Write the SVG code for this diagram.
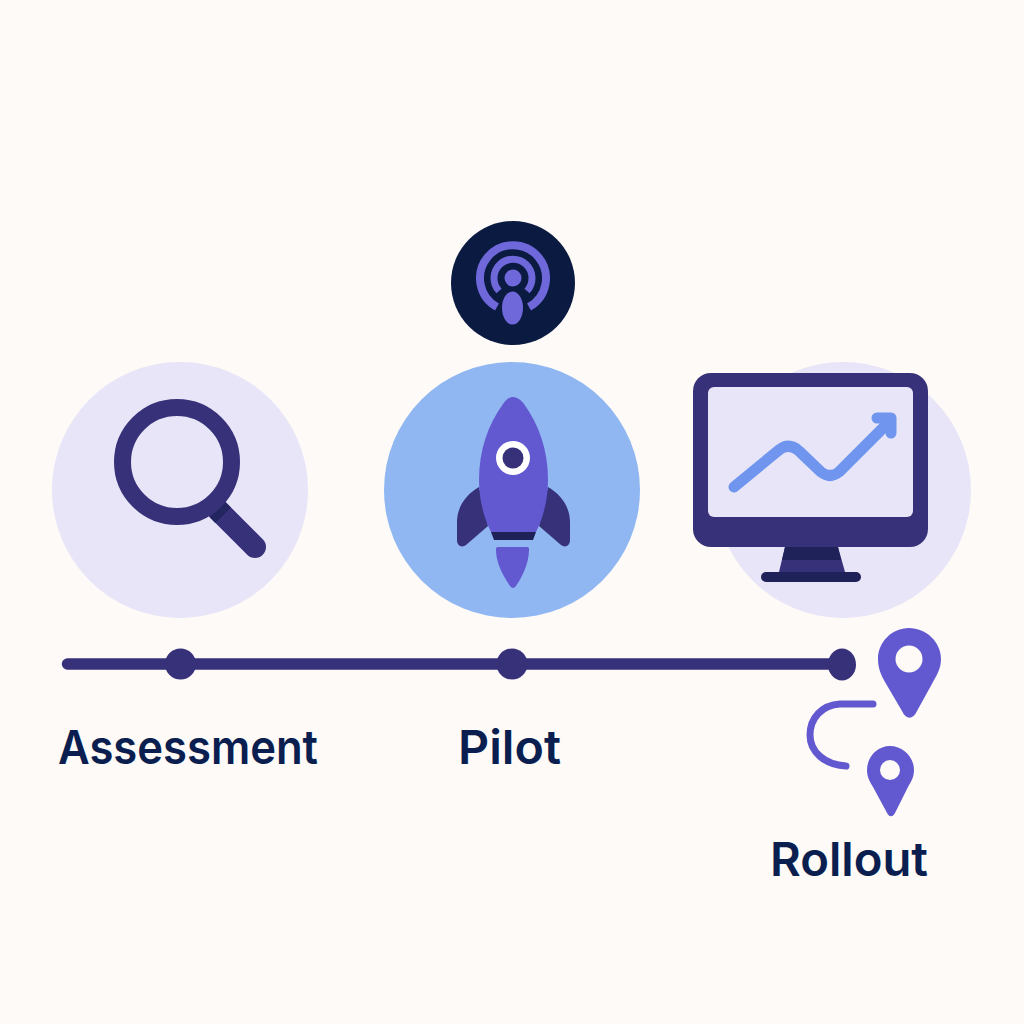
<svg xmlns="http://www.w3.org/2000/svg" width="1024" height="1024" viewBox="0 0 1024 1024">
<style>
.lbl{font-family:"Inter","Liberation Sans",sans-serif;font-weight:600;font-size:47px;fill:#0a1f50}
.pur{fill:#6259d1}.dk{fill:#37317a}.nv{fill:#1e2259}.lav{fill:#e7e5f7}
.ln{fill:none;stroke-linecap:round;stroke-linejoin:round}
</style>
<rect width="1024" height="1024" fill="#fefaf7"/>
<g id="connectors"><line x1="67.500" y1="664" x2="840" y2="664" stroke="#37317a" stroke-width="11.500" stroke-linecap="round"/></g>
<g id="node-assessment">
<circle class="lav" cx="180" cy="490" r="128"/>
<line x1="217.500" y1="509.500" x2="255" y2="547" stroke="#37317a" stroke-width="22" stroke-linecap="round"/>
<path class="nv" d="M209.600 517.200L225.400 501.800L231 507.500L215.200 522.900Z" opacity=".75"/>
<circle cx="177" cy="462" r="54.500" fill="none" stroke="#37317a" stroke-width="17"/>
<circle class="dk" cx="180.500" cy="664" r="15.500"/>
<text class="lbl" x="58" y="764" textLength="260" lengthAdjust="spacingAndGlyphs">Assessment</text>
</g>
<g id="node-podcast">
<circle cx="513" cy="283" r="62" fill="#0a1a40"/>
<path class="ln" d="M497 307A33 33 0 1 1 529 307" stroke="#6f68da" stroke-width="8" style="stroke-linecap:butt"/>
<path class="ln" d="M499 291A19 19 0 1 1 527 291" stroke="#6f68da" stroke-width="7" style="stroke-linecap:butt"/>
<circle cx="513" cy="278" r="8.500" fill="#6f68da"/>
<ellipse cx="512.500" cy="308" rx="10.500" ry="16.500" fill="#6f68da"/>
</g>
<g id="node-pilot">
<circle cx="512" cy="490" r="128" fill="#90b7f2"/>
<path class="dk" d="M479 487C465 495 457 508 457 522V540C457 546 462 548 466 545L488 526ZM548 487C562 495 570 508 570 522V540C570 546 565 548 561 545L539 526Z"/>
<path class="pur" d="M513 397C509 397 506 400 503 404C488 425 479 450 479 480C479 500 484 518 491 532H536C543 518 548 500 548 480C548 450 539 425 524 404C521 400 517 397 513 397Z"/>
<path class="nv" d="M491 532H536L533 540H494Z"/>
<circle cx="513" cy="458" r="17" fill="#fff"/>
<circle class="dk" cx="513" cy="458" r="10.500"/>
<path class="pur" d="M498 547H527C529 547 529 548 529 550C529 565 520 580 516 586C514 588.500 512 588.500 510 586C506 580 496 565 496 550C496 548 496 547 498 547Z"/>
<circle class="dk" cx="512" cy="664" r="15.500"/>
<text class="lbl" x="458" y="764" textLength="103" lengthAdjust="spacingAndGlyphs">Pilot</text>
</g>
<g id="node-rollout">
<circle class="lav" cx="843" cy="490" r="128"/>
<rect class="dk" x="693" y="373" width="235" height="174" rx="18"/>
<rect class="lav" x="708" y="387" width="205" height="130" rx="6"/>
<path class="dk" d="M785 547H838L845 572H779Z"/>
<path class="nv" d="M785 547H838L841 560H782Z"/>
<rect class="nv" x="761" y="572" width="100" height="10" rx="5"/>
<path class="ln" d="M734 487L779 450Q789 442 799 451L821 472Q830 479 839 472L888 423" stroke="#6f95ee" stroke-width="11"/>
<path class="ln" d="M877 418H891V433" stroke="#6f95ee" stroke-width="11"/>
<ellipse class="dk" cx="842" cy="664.500" rx="14" ry="16"/>
<path class="pur" d="M909 628C926 628 941 642 941 659C941 668 937 675 933 682L917 711C913 720 906 720 902 711L885 682C881 675 878 668 878 659C878 642 892 628 909 628Z"/>
<circle cx="909" cy="659" r="13.500" fill="#fefaf7"/>
<path class="ln" d="M873 704H840C822 705 810 718 810 735C810 752 825 765 846 766" stroke="#6259d1" stroke-width="7"/>
<path class="pur" d="M890 746C903 746 914 757 914 770C914 777 911 782 908 787L896 811C893 818 889 818 886 811L873 787C870 782 867 777 867 770C867 757 877 746 890 746Z"/>
<circle cx="890" cy="770" r="10" fill="#fefaf7"/>
<text class="lbl" x="770" y="876" textLength="158" lengthAdjust="spacingAndGlyphs">Rollout</text>
</g>
</svg>
